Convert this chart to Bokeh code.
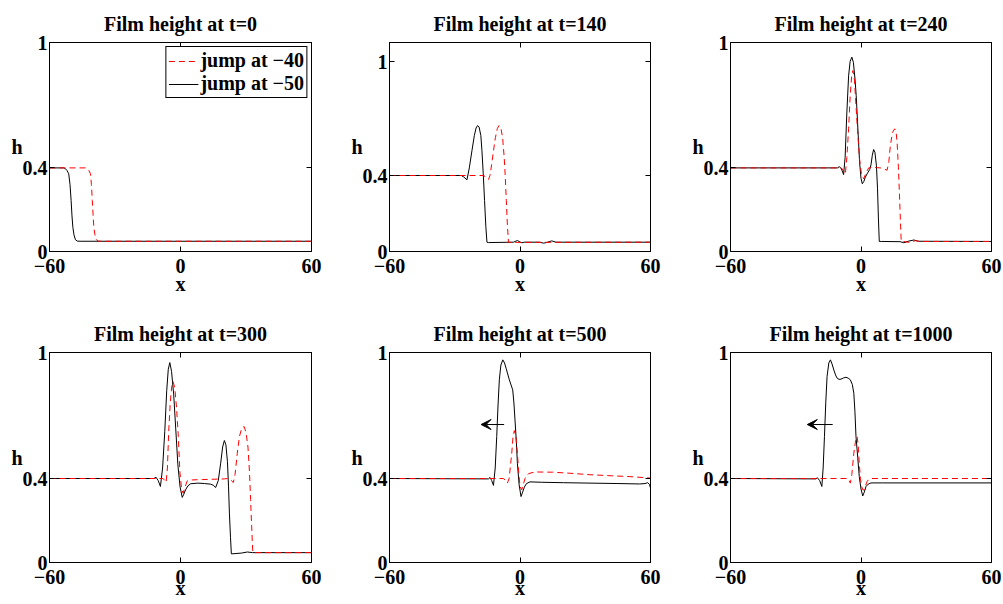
from bokeh.plotting import figure
from bokeh.models import (Range1d, FixedTicker, LinearAxis, Label, Legend, LegendItem,
                          Arrow, VeeHead, NumeralTickFormatter)
from bokeh.layouts import column, row
from bokeh.embed import file_html
from bokeh.resources import INLINE

# ---------------- data ----------------
titles = ["Film height at t=0", "Film height at t=140", "Film height at t=240",
          "Film height at t=300", "Film height at t=500", "Film height at t=1000"]
legend_labels = ["jump at \u221240", "jump at \u221250"]
x_label = "x"
y_label = "h"
x_ticks = [-60, 0, 60]
x_tick_labels = ["\u221260", "0", "60"]
y_ticks = [0, 0.4, 1]
y_max = [1, 1.1, 1, 1, 1, 1]

# t = 0
t0_x_m50 = [-60, -53.5, -52.7, -52.0, -51.2, -50.6, -50.1, -49.7, -49.3, -48.8, -48.1, -47.3, -46, 60]
t0_h_m50 = [0.4, 0.4, 0.396, 0.388, 0.372, 0.32, 0.244, 0.17, 0.116, 0.08, 0.056, 0.05, 0.049, 0.049]
t0_x_m40 = [-60, -43.5, -42.7, -42.0, -41.2, -40.8, -40.4, -40.0, -39.7, -39.2, -38.5, -37.7, -36.5, 60]
t0_h_m40 = [0.4, 0.4, 0.396, 0.388, 0.372, 0.32, 0.244, 0.17, 0.116, 0.08, 0.056, 0.05, 0.049, 0.049]

# t = 140
t140_x_m50 = [-60, -27, -25.8, -24.4, -23.3, -22.1, -21.0, -20.2, -19.5, -18.8, -18.0, -17.5, -16.9,
              -16.3, -15.7, -15.2, -14.5, -3, -1.2, 0.0, 0.8, 2, 9, 10.8, 12.5, 14.6, 16.5, 60]
t140_h_m50 = [0.4, 0.4, 0.392, 0.377, 0.44, 0.53, 0.61, 0.65, 0.663, 0.655, 0.61, 0.53, 0.41,
              0.268, 0.13, 0.049, 0.047, 0.049, 0.058, 0.05, 0.046, 0.049, 0.049, 0.044, 0.048, 0.056, 0.049, 0.049]
t140_x_m40 = [-60, -17, -16, -15.2, -14.5, -13.8, -13.0, -12.2, -11.3, -10.4, -9.6, -8.8, -8.0,
              -7.3, -6.8, -6.3, -5.8, -5.3, -4.5, 60]
t140_h_m40 = [0.4, 0.4, 0.395, 0.385, 0.379, 0.4, 0.46, 0.53, 0.6, 0.648, 0.663, 0.65, 0.6,
              0.5, 0.4, 0.27, 0.14, 0.049, 0.048, 0.049]

# t = 240
t240_x_m50 = [-60, -10.8, -9.9, -9.0, -8.0, -7.3, -6.5, -5.7, -5.0, -4.2, -3.5, -2.8, -2.2, -1.4,
              -0.65, 0.0, 0.6, 1.3, 2.0, 3.0, 4.0, 4.6, 5.2, 5.8, 6.4, 7.1, 7.6, 8.0, 8.4, 9.5,
              18, 19.7, 22, 24.3, 26.5, 60]
t240_h_m50 = [0.4, 0.4, 0.406, 0.395, 0.368, 0.45, 0.667, 0.84, 0.91, 0.93, 0.905, 0.83, 0.746, 0.58,
              0.427, 0.35, 0.324, 0.335, 0.356, 0.375, 0.392, 0.415, 0.46, 0.488, 0.475, 0.41, 0.3, 0.16, 0.048, 0.048,
              0.047, 0.042, 0.05, 0.055, 0.049, 0.048]
t240_x_m40 = [-60, -9.5, -8.7, -8.0, -7.2, -6.5, -5.7, -5.0, -4.3, -3.7, -3.0, -2.2, -1.4, -0.65,
              0.2, 1.2, 2.3, 3.5, 5, 8.9, 10.5, 12.0, 12.8, 13.5, 14.5, 15.5, 16.1, 16.6, 17.2,
              17.7, 18.1, 18.5, 19.5, 22.5, 25, 27, 60]
t240_h_m40 = [0.4, 0.4, 0.397, 0.385, 0.37, 0.45, 0.587, 0.74, 0.84, 0.866, 0.82, 0.68, 0.55, 0.443,
              0.37, 0.348, 0.375, 0.4, 0.403, 0.4, 0.395, 0.389, 0.43, 0.507, 0.57, 0.587, 0.575, 0.523, 0.4,
              0.27, 0.15, 0.048, 0.048, 0.043, 0.052, 0.048, 0.048]

# t = 300
t300_x_m50 = [-60, -12.2, -11.2, -10.2, -9.2, -8.2, -7.2, -6.3, -5.6, -4.9, -4.1, -3.1, -2.2, -1.2,
              -0.2, 0.8, 1.5, 2.3, 3.4, 4.6, 8, 11, 13.8, 15.0, 16.1, 17.3, 18.4, 19.3, 20.1, 20.8,
              21.5, 22.0, 22.4, 22.9, 23.3, 24.5, 28, 30.6, 33, 60]
t300_h_m50 = [0.4, 0.4, 0.406, 0.39, 0.362, 0.45, 0.624, 0.82, 0.92, 0.952, 0.91, 0.798, 0.64, 0.465,
              0.36, 0.31, 0.325, 0.346, 0.365, 0.375, 0.378, 0.376, 0.373, 0.368, 0.357, 0.39, 0.473, 0.55, 0.581, 0.56,
              0.48, 0.36, 0.235, 0.12, 0.041, 0.042, 0.045, 0.05, 0.047, 0.047]
t300_x_m40 = [-60, -8.0, -7.3, -6.6, -6.0, -5.4, -4.7, -4.0, -3.4, -2.6, -1.8, -1.0, -0.3, 0.5,
              1.2, 2.1, 3.1, 5, 10, 20, 21.5, 22.8, 24.2, 25.0, 26.0, 27.0, 28.0, 29.1, 30.0,
              30.9, 31.6, 32.1, 32.6, 33.1, 34, 60]
t300_h_m40 = [0.4, 0.4, 0.392, 0.381, 0.45, 0.624, 0.76, 0.84, 0.862, 0.83, 0.735, 0.6, 0.433, 0.35,
              0.33, 0.36, 0.389, 0.393, 0.395, 0.398, 0.4, 0.395, 0.381, 0.42, 0.52, 0.6, 0.638, 0.648, 0.62,
              0.55, 0.43, 0.3, 0.17, 0.047, 0.047, 0.047]

# t = 500
t500_x_m50 = [-60, -14.5, -13.8, -13.0, -12.2, -11.4, -10.7, -10.1, -9.5, -8.8, -7.9, -7.1, -6.4,
              -4.9, -3.35, -2.8, -2.3, -1.7, -1.2, -0.4, 0.47, 1.2, 2.0, 3.0, 4.6, 10, 20, 32.2,
              45, 55, 57.5, 58.7, 59.5, 60]
t500_h_m50 = [0.4, 0.398, 0.405, 0.39, 0.367, 0.45, 0.6, 0.75, 0.87, 0.94, 0.965, 0.95, 0.925,
              0.87, 0.822, 0.76, 0.679, 0.58, 0.473, 0.37, 0.314, 0.335, 0.359, 0.376, 0.384, 0.382, 0.38, 0.378,
              0.376, 0.374, 0.376, 0.38, 0.372, 0.355]
t500_x_m40 = [-60, -7.7, -6.8, -5.8, -5.0, -4.4, -3.8, -3.2, -2.6, -1.9, -1.2, -0.6, 0.0, 0.8,
              1.5, 2.3, 3.0, 3.8, 5.5, 7.7, 15, 23, 32.2, 42, 50.5, 60]
t500_h_m40 = [0.4, 0.4, 0.393, 0.378, 0.4, 0.46, 0.52, 0.6, 0.628, 0.6, 0.52, 0.43, 0.362, 0.346,
              0.37, 0.4, 0.414, 0.422, 0.428, 0.431, 0.43, 0.425, 0.418, 0.413, 0.409, 0.402]

# t = 1000
t1000_x_m50 = [-60, -20.6, -20.1, -19.0, -18.0, -17.4, -16.8, -16.2, -15.6, -14.8, -14.05, -13.3,
               -12.5, -11.7, -11.0, -10.1, -9.2, -8.0, -6.9, -5.9, -4.9, -4.0, -3.3, -2.8, -2.3,
               -1.5, -0.8, 0.0, 0.8, 1.5, 2.3, 3.3, 4.6, 10, 60]
t1000_h_m50 = [0.4, 0.398, 0.404, 0.39, 0.362, 0.45, 0.6, 0.76, 0.886, 0.95, 0.965, 0.945,
               0.917, 0.893, 0.878, 0.872, 0.873, 0.879, 0.882, 0.878, 0.87, 0.848, 0.806, 0.72, 0.6,
               0.5, 0.41, 0.35, 0.317, 0.335, 0.362, 0.373, 0.379, 0.379, 0.379]
t1000_x_m40 = [-60, -6.1, -5.5, -4.9, -4.2, -3.3, -2.5, -1.8, -1.3, -0.8, -0.25, 0.3, 0.9, 1.5,
               2.1, 2.8, 3.6, 4.6, 60]
t1000_h_m40 = [0.4, 0.4, 0.392, 0.378, 0.42, 0.52, 0.58, 0.6, 0.56, 0.473, 0.4, 0.362, 0.345, 0.346,
               0.366, 0.386, 0.396, 0.4, 0.4]

series_m50 = [(t0_x_m50, t0_h_m50), (t140_x_m50, t140_h_m50), (t240_x_m50, t240_h_m50),
              (t300_x_m50, t300_h_m50), (t500_x_m50, t500_h_m50), (t1000_x_m50, t1000_h_m50)]
series_m40 = [(t0_x_m40, t0_h_m40), (t140_x_m40, t140_h_m40), (t240_x_m40, t240_h_m40),
              (t300_x_m40, t300_h_m40), (t500_x_m40, t500_h_m40), (t1000_x_m40, t1000_h_m40)]

# arrows (panels t=500 and t=1000): start x, end x, height
arrow_panels = [4, 5]
arrow_x_start = [-7.3, -13.0]
arrow_x_end = [-17.9, -24.7]
arrow_h = [0.657, 0.657]

# ---------------- layout ----------------
FONT = "Liberation Serif"
col_w = [331, 339, 333]
col_bl = [49, 58, 60]
col_br = [20, 20, 12]
row_h = [300, 304]
row_bt = [42, 52]
row_bb = [49, 42]
row_xlabel_standoff = [-3, -10]

HAS_ORIENT = "axis_label_orientation" in LinearAxis.properties()


def style_axis(ax, ticks, labels=None, hidden=False, standoff=3):
    ax.ticker = FixedTicker(ticks=ticks)
    ax.major_tick_in = 5
    ax.major_tick_out = 0
    ax.minor_tick_line_color = None
    ax.axis_line_color = "black"
    ax.major_tick_line_color = "black"
    if hidden:
        ax.major_label_text_font_size = "1px"
        ax.major_label_text_color = None
        ax.major_label_standoff = 0
    else:
        ax.major_label_text_font = FONT
        ax.major_label_text_font_style = "bold"
        ax.major_label_text_font_size = "20px"
        ax.major_label_text_color = "black"
        ax.major_label_standoff = standoff
        if labels is not None:
            ax.major_label_overrides = {t: l for t, l in zip(ticks, labels)}


def style_axis_label(ax, text, standoff):
    ax.axis_label = text
    ax.axis_label_text_font = FONT
    ax.axis_label_text_font_style = "bold"
    ax.axis_label_text_font_size = "20px"
    ax.axis_label_text_color = "black"
    ax.axis_label_standoff = standoff


figs = []
for i in range(6):
    r, c = divmod(i, 3)
    p = figure(width=col_w[c], height=row_h[r],
               x_range=Range1d(-60, 60), y_range=Range1d(0, y_max[i]),
               output_backend="svg", toolbar_location=None,
               min_border_left=col_bl[c], min_border_right=col_br[c],
               min_border_top=row_bt[r], min_border_bottom=row_bb[r],
               title=titles[i])
    p.title.text_font = FONT
    p.title.text_font_style = "bold"
    p.title.text_font_size = "20px"
    p.title.align = "center"
    p.title.standoff = 15
    p.title.text_color = "black"
    p.xgrid.visible = False
    p.ygrid.visible = False
    p.outline_line_color = "black"
    p.outline_line_alpha = 1
    p.background_fill_color = "white"
    p.border_fill_color = "white"

    style_axis(p.xaxis[0], x_ticks, x_tick_labels, standoff=7)
    style_axis(p.yaxis[0], y_ticks, standoff=2)
    p.yaxis[0].formatter = NumeralTickFormatter(format="0.[0]")
    style_axis_label(p.xaxis[0], x_label, row_xlabel_standoff[r])

    if HAS_ORIENT:
        style_axis_label(p.yaxis[0], y_label, -3)
        p.yaxis[0].axis_label_orientation = "horizontal"
        p.yaxis[0].axis_label_text_baseline = "bottom"
    else:
        p.add_layout(Label(x=-33, y=114, x_units="screen", y_units="screen", text=y_label,
                           text_font=FONT, text_font_style="bold", text_font_size="20px",
                           text_align="center", text_baseline="middle", text_color="black",
                           level="overlay"))

    top = LinearAxis()
    style_axis(top, x_ticks, hidden=True)
    p.add_layout(top, "above")
    right = LinearAxis()
    style_axis(right, y_ticks, hidden=True)
    p.add_layout(right, "right")

    xb, hb = series_m50[i]
    xr, hr = series_m40[i]
    rb = p.line(xb, hb, line_color="black", line_width=1)
    rr = p.line(xr, hr, line_color="#ff0000", line_width=1, line_dash="6 4")

    if i == 0:
        leg = Legend(items=[LegendItem(label=legend_labels[0], renderers=[rr]),
                            LegendItem(label=legend_labels[1], renderers=[rb])],
                     location="top_right")
        leg.label_text_font = FONT
        leg.label_text_font_style = "bold"
        leg.label_text_font_size = "20px"
        leg.label_text_color = "black"
        leg.border_line_color = "black"
        leg.border_line_width = 1
        leg.border_line_alpha = 1
        leg.background_fill_alpha = 1
        leg.margin = 4
        leg.padding = 2
        leg.spacing = 0
        leg.glyph_width = 30
        leg.glyph_height = 20
        leg.label_height = 20
        leg.label_standoff = 2
        p.add_layout(leg)

    if i in arrow_panels:
        k = arrow_panels.index(i)
        p.add_layout(Arrow(end=VeeHead(size=10, fill_color="black", line_color="black", line_width=1),
                           x_start=arrow_x_start[k], y_start=arrow_h[k],
                           x_end=arrow_x_end[k], y_end=arrow_h[k],
                           line_color="black", line_width=1))
    figs.append(p)

layout = column(row(*figs[:3]), row(*figs[3:]))
open("out.html", "w").write(file_html(layout, INLINE))
